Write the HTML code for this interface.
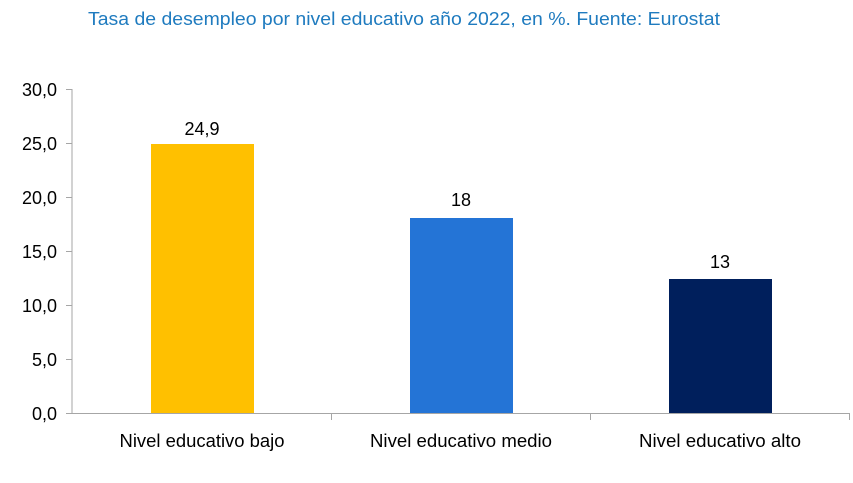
<!DOCTYPE html>
<html><head><meta charset="utf-8"><style>
body{margin:0;background:#fff;}
svg text{font-family:"Liberation Sans",sans-serif;}
</style></head><body>
<svg width="853" height="478" viewBox="0 0 853 478" xmlns="http://www.w3.org/2000/svg">
<rect width="853" height="478" fill="#fff"/>
<text x="88" y="25" font-size="18" fill="#1f7bbf" textLength="632" lengthAdjust="spacingAndGlyphs">Tasa de desempleo por nivel educativo año 2022, en %. Fuente: Eurostat</text>
<g stroke="#a6a6a6" stroke-width="1">
<line x1="72" y1="89" x2="72" y2="413"/>
<line x1="72" y1="413.5" x2="850" y2="413.5"/>
<line x1="66" y1="89.5" x2="72" y2="89.5"/>
<line x1="66" y1="143.5" x2="72" y2="143.5"/>
<line x1="66" y1="197.5" x2="72" y2="197.5"/>
<line x1="66" y1="251.5" x2="72" y2="251.5"/>
<line x1="66" y1="305.5" x2="72" y2="305.5"/>
<line x1="66" y1="359.5" x2="72" y2="359.5"/>
<line x1="66" y1="413.5" x2="72" y2="413.5"/>
<line x1="331.5" y1="413" x2="331.5" y2="420"/>
<line x1="590.5" y1="413" x2="590.5" y2="420"/>
<line x1="849.5" y1="413" x2="849.5" y2="420"/>
</g>
<g font-size="18" fill="#000" text-anchor="end">
<text x="57" y="96">30,0</text>
<text x="57" y="150">25,0</text>
<text x="57" y="204">20,0</text>
<text x="57" y="258">15,0</text>
<text x="57" y="312">10,0</text>
<text x="57" y="366">5,0</text>
<text x="57" y="420">0,0</text>
</g>
<rect x="151" y="144" width="103" height="269" fill="#ffc000"/>
<rect x="410" y="218" width="103" height="195" fill="#2474d6"/>
<rect x="669" y="279" width="103" height="134" fill="#001f5c"/>
<g font-size="18" fill="#000" text-anchor="middle">
<text x="202" y="135">24,9</text>
<text x="461" y="206">18</text>
<text x="720" y="268">13</text>
<text x="202" y="447" textLength="165" lengthAdjust="spacingAndGlyphs">Nivel educativo bajo</text>
<text x="461" y="447" textLength="182" lengthAdjust="spacingAndGlyphs">Nivel educativo medio</text>
<text x="720" y="447" textLength="162" lengthAdjust="spacingAndGlyphs">Nivel educativo alto</text>
</g>
</svg>
</body></html>
